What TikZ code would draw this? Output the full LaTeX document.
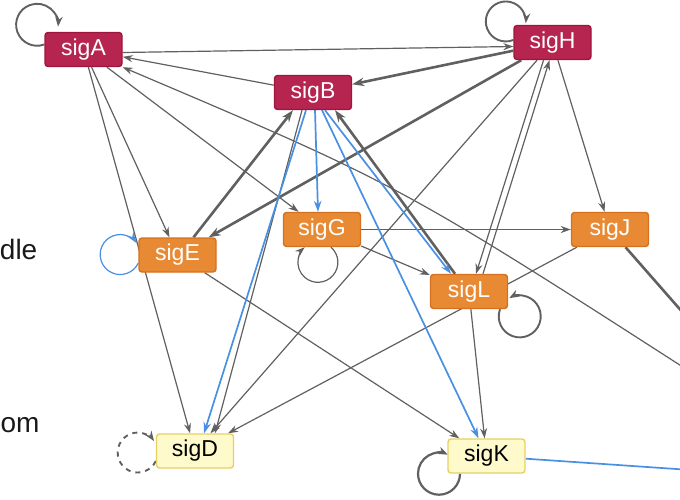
\documentclass[tikz,border=0pt]{standalone}
\usepackage{fontspec}
\setmainfont{Liberation Sans}
\usetikzlibrary{arrows.meta,backgrounds}

\definecolor{topred}{RGB}{182,36,80}
\definecolor{topredline}{RGB}{158,22,62}
\definecolor{midorange}{RGB}{232,138,52}
\definecolor{midorangeline}{RGB}{212,112,32}
\definecolor{lowyellow}{RGB}{255,250,204}
\definecolor{lowyellowline}{RGB}{230,208,100}
\definecolor{edgegray}{RGB}{96,96,96}
\definecolor{edgeblue}{RGB}{74,144,226}
\definecolor{tiertext}{RGB}{25,25,25}

\begin{document}
\begin{tikzpicture}[x=1pt,y=1pt,
  sig/.style={rectangle, rounded corners=3pt, minimum width=77pt, minimum height=34pt, inner sep=0pt, line width=1.4pt, font=\fontsize{23}{23}\selectfont},
  sigtop/.style={sig, fill=topred, draw=topredline, text=white},
  sigmid/.style={sig, fill=midorange, draw=midorangeline, text=white},
  siglow/.style={sig, fill=lowyellow, draw=lowyellowline, text=black},
  tier/.style={anchor=base east, inner sep=0pt, text=tiertext, font=\fontsize{28}{28}\selectfont},
  sigedge/.style={draw=edgegray, line width=1.2pt, -{Stealth[length=10pt,width=7pt]}},
  sigheavy/.style={draw=edgegray, line width=2.6pt, -{Stealth[length=12pt,width=8.5pt]}},
  sigblue/.style={draw=edgeblue, line width=1.7pt, -{Stealth[length=11pt,width=7.5pt]}},
  selfloop/.style={draw=edgegray, line width=1.9pt, -{Stealth[length=10pt,width=7.5pt]}}]
  \useasboundingbox (0,0) rectangle (680,-500);

  % tier labels (as far as they show)
  \node[tier] (middle) at (37.5,-259.5) {dle};
  \node[tier] (bottom) at (39.7,-432.5) {om};

  % top tier
  \node[sigtop] (sigA) at (83.5,-49.5) {sigA};
  \node[sigtop] (sigH) at (552.5,-42.5) {sigH};
  \node[sigtop] (sigB) at (313,-92.5) {sigB};
  % middle tier
  \node[sigmid] (sigG) at (322,-229.5) {sigG};
  \node[sigmid] (sigE) at (177.5,-255) {sigE};
  \node[sigmid] (sigJ) at (610,-229.5) {sigJ};
  \node[sigmid] (sigL) at (469,-291.5) {sigL};
  % bottom tier
  \node[siglow] (sigD) at (195,-451) {sigD};
  \node[siglow] (sigK) at (486.5,-456) {sigK};

  % ends outside the frame
  \coordinate (outA) at (700,-378);
  \coordinate (outJ) at (720,-355);
  \coordinate (outK) at (720,-472);

  \begin{scope}[on background layer]
    \clip (0,0) rectangle (680,-500);
    % thin gray links
    \draw[sigedge] ([yshift=-3pt]sigA.east) -- ([yshift=-4pt]sigH.west);
    \draw[sigedge] (sigB) -- (sigA);
    \draw[sigedge] (sigA) -- (sigE);
    \draw[sigedge] (sigA) -- (sigD);
    \draw[sigedge] (sigA) -- (sigG);
    \draw[sigedge] (outA) .. controls (400,-185) .. (sigA.south east);
    \draw[sigedge] (sigG) -- (sigJ);
    \draw[sigedge] (sigG) -- (sigL);
    \draw[sigedge] (sigH) -- (sigJ);
    \draw[sigedge] ([xshift=-9pt]sigH.south) -- ([xshift=7pt]sigL.north);
    \draw[sigedge] ([xshift=14pt]sigL.north) -- ([xshift=-3pt]sigH.south);
    \draw[sigedge] (sigH) -- (sigD);
    \draw[sigedge] ([xshift=-11pt]sigB.south) -- ([xshift=20pt]sigD.north);
    \draw[sigedge] (sigJ) -- (sigD);
    \draw[sigedge] (sigL) -- (sigK);
    \draw[sigedge] (sigE) -- (sigK);

    % heavy gray links
    \draw[sigheavy] (sigH) -- (sigB);
    \draw[sigheavy] (sigH) -- (sigE);
    \draw[sigheavy] ([xshift=16pt]sigE.north) -- ([xshift=-20pt]sigB.south);
    \draw[sigheavy] ([xshift=-14pt]sigL.north) -- ([xshift=22pt]sigB.south);
    \draw[sigheavy] (sigJ) -- (outJ);

    % blue links
    \draw[sigblue] ([xshift=-7pt]sigB.south) -- ([xshift=9pt]sigD.north);
    \draw[sigblue] ([xshift=2pt]sigB.south) -- ([xshift=-4pt]sigG.north);
    \draw[sigblue] ([xshift=9pt]sigB.south) -- ([xshift=-8pt]sigK.north);
    \draw[sigblue] ([xshift=12pt]sigB.south) -- ([xshift=-18pt]sigL.north);
    \draw[sigblue] (sigK) -- (outK);

    % self loops
    \draw[selfloop] ([yshift=5pt]sigA.west) arc[start angle=-70, end angle=-365, radius=21];
    \draw[selfloop] ([yshift=2.5pt]sigH.west) arc[start angle=-68, end angle=-365, radius=20];
    \draw[sigblue, line width=1.2pt] ([yshift=-8pt]sigE.west) arc[start angle=-25, end angle=-325, radius=20];
    \draw[sigedge] ([xshift=9pt]sigG.south) arc[start angle=49, end angle=-229, radius=20];
    \draw[selfloop] ([xshift=31pt]sigL.south) arc[start angle=160, end angle=480, radius=21];
    \draw[selfloop, dash pattern=on 5pt off 5pt] ([yshift=-10pt]sigD.west) arc[start angle=-25, end angle=-325, radius=20];
    \draw[selfloop, line width=2.2pt] ([xshift=-26.5pt]sigK.south) arc[start angle=0, end angle=-295, radius=21];
  \end{scope}
\end{tikzpicture}
\end{document}
